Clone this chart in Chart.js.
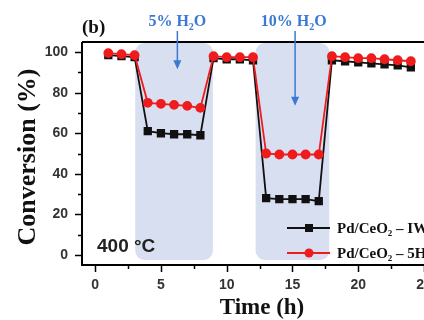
<!DOCTYPE html>
<html>
<head>
<meta charset="utf-8">
<script src="https://cdn.jsdelivr.net/npm/chart.js@4.4.1/dist/chart.umd.min.js"></script>
<style>
  html, body { margin: 0; padding: 0; background: #fff; overflow: hidden; }
  canvas { display: block; }
</style>
</head>
<body>
<canvas id="myChart" width="424" height="320"></canvas>
<script>
var ctx = document.getElementById('myChart');

// time on stream (h) and CO conversion (%)
const hours = [1, 2, 3, 4, 5, 6, 7, 8, 9, 10, 11, 12, 13, 14, 15, 16, 17, 18, 19, 20, 21, 22, 23, 24];
const iwConversion = [98.5, 98, 97.5, 61, 60, 59.5, 59.5, 59, 97, 96.5, 96.5, 96, 28, 27.5, 27.5, 27.5, 26.5, 96, 95.5, 95, 94.5, 94, 93.5, 92.5];
const h5Conversion = [99.5, 99, 98.5, 75, 74.5, 74, 73.5, 72.5, 98, 97.5, 97.5, 97.5, 50, 49.5, 49.5, 49.5, 49.5, 98, 97.5, 97, 97, 96.5, 96, 95.5];

const xTicks = [0, 5, 10, 15, 20, 25];
const yTicks = [0, 20, 40, 60, 80, 100];

// water fed between these times
const waterPeriods = [
  { label: '5% H', from: 3.05, to: 8.95 },
  { label: '10% H', from: 12.2, to: 17.8 }
];
const seriesNames = ['Pd/CeO', 'Pd/CeO'];
const seriesTails = [' \u2013 IW', ' \u2013 5H'];

const SERIF = "'Liberation Serif', 'Times New Roman', serif";
const SANS = "'Liberation Sans', Arial, sans-serif";
const BLUE = '#3b79d6';

// text with a subscript "2" in the middle: pre + 2 + post
function subText(c, pre, post, x, y, size, align) {
  c.font = 'bold ' + size + 'px ' + SERIF;
  const w1 = c.measureText(pre).width;
  c.font = 'bold ' + Math.round(size * 0.62) + 'px ' + SERIF;
  const w2 = c.measureText('2').width;
  c.font = 'bold ' + size + 'px ' + SERIF;
  const w3 = c.measureText(post).width;
  let sx = x;
  if (align === 'center') sx = x - (w1 + w2 + w3) / 2;
  c.textAlign = 'left';
  c.textBaseline = 'alphabetic';
  c.fillText(pre, sx, y);
  c.font = 'bold ' + Math.round(size * 0.62) + 'px ' + SERIF;
  c.fillText('2', sx + w1, y + size * 0.22);
  c.font = 'bold ' + size + 'px ' + SERIF;
  c.fillText(post, sx + w1 + w2, y);
}

function arrowDown(c, x, y0, y1) {
  c.beginPath();
  c.moveTo(x, y0);
  c.lineTo(x, y1 - 6);
  c.stroke();
  c.beginPath();
  c.moveTo(x, y1);
  c.lineTo(x - 4, y1 - 9);
  c.lineTo(x + 4, y1 - 9);
  c.closePath();
  c.fill();
}

const extras = {
  id: 'extras',
  beforeDatasetsDraw(chart) {
    const c = chart.ctx, a = chart.chartArea, x = chart.scales.x, y = chart.scales.y;
    c.save();
    c.fillStyle = '#d8dff1';
    waterPeriods.forEach(p => {
      const l = x.getPixelForValue(p.from), r = x.getPixelForValue(p.to);
      const b = y.getPixelForValue(-2.5);
      c.beginPath();
      c.roundRect(l, a.top + 1, r - l, b - a.top - 1, 9);
      c.fill();
    });
    c.restore();
  },
  afterDraw(chart) {
    const c = chart.ctx, a = chart.chartArea, x = chart.scales.x, y = chart.scales.y;
    c.save();

    // frame: left, bottom and top lines
    c.strokeStyle = '#000';
    c.lineWidth = 2;
    c.beginPath();
    c.moveTo(a.left, a.top);
    c.lineTo(a.right + 2, a.top);
    c.moveTo(a.left, a.top);
    c.lineTo(a.left, a.bottom);
    c.lineTo(a.right + 2, a.bottom);
    c.stroke();

    // tick marks, major and minor, pointing out
    c.lineWidth = 1.5;
    c.beginPath();
    for (let v = 0; v <= 100; v += 10) {
      const py = Math.round(y.getPixelForValue(v)) + 0.5;
      c.moveTo(a.left, py);
      c.lineTo(a.left - (v % 20 === 0 ? 7 : 4), py);
    }
    for (let v = 0; v <= 25; v += 2.5) {
      const px = Math.round(x.getPixelForValue(v)) + 0.5;
      c.moveTo(px, a.bottom);
      c.lineTo(px, a.bottom + (v % 5 === 0 ? 7 : 4));
    }
    c.stroke();

    // axis titles
    c.fillStyle = '#111';
    c.font = 'bold 23px ' + SERIF;
    c.textAlign = 'center';
    c.textBaseline = 'middle';
    c.fillText('Time (h)', 262, 308);
    c.save();
    c.translate(28, 157);
    c.rotate(-Math.PI / 2);
    c.font = 'bold 26px ' + SERIF;
    c.fillText('Conversion (%)', 0, 0);
    c.restore();

    // panel letter and temperature
    c.font = 'bold 19px ' + SERIF;
    c.textAlign = 'left';
    c.fillText('(b)', 82, 28);
    c.font = 'bold 19px ' + SANS;
    c.fillStyle = '#222';
    c.fillText('400 \u00b0C', 97, 247);

    // water feed labels and arrows
    c.fillStyle = BLUE;
    c.strokeStyle = BLUE;
    c.lineWidth = 1.5;
    subText(c, '5% H', 'O', x.getPixelForValue(6.25), 26, 16, 'center');
    arrowDown(c, x.getPixelForValue(6.25), 31, y.getPixelForValue(91.5));
    subText(c, '10% H', 'O', x.getPixelForValue(15.1), 26, 16, 'center');
    arrowDown(c, x.getPixelForValue(15.2), 31, y.getPixelForValue(73.5));

    // legend
    const rows = [
      { color: '#111', style: 'rect', py: a.bottom - 37 },
      { color: '#ee1c1c', style: 'circle', py: a.bottom - 12 }
    ];
    rows.forEach((r, i) => {
      c.strokeStyle = r.color;
      c.fillStyle = r.color;
      c.lineWidth = 2;
      c.beginPath();
      c.moveTo(287, r.py);
      c.lineTo(330, r.py);
      c.stroke();
      if (r.style === 'rect') {
        c.fillRect(305, r.py - 4, 8, 8);
      } else {
        c.beginPath();
        c.arc(309, r.py, 4.5, 0, Math.PI * 2);
        c.fill();
      }
      c.fillStyle = '#111';
      subText(c, seriesNames[i], seriesTails[i], 337, r.py + 5, 15, 'left');
    });

    c.restore();
  }
};

var myChart = new Chart(ctx, {
  type: 'line',
  data: {
    labels: hours,
    datasets: [
      {
        label: 'Pd/CeO2 - IW',
        data: iwConversion,
        borderColor: '#111',
        backgroundColor: '#111',
        borderWidth: 1.8,
        pointStyle: 'rect',
        radius: 4.6,
        fill: false,
        tension: 0,
        order: 2
      },
      {
        label: 'Pd/CeO2 - 5H',
        data: h5Conversion,
        borderColor: '#ee1c1c',
        backgroundColor: '#ee1c1c',
        borderWidth: 1.8,
        pointStyle: 'circle',
        radius: 4,
        fill: false,
        tension: 0,
        order: 1
      }
    ]
  },
  options: {
    responsive: false,
    animation: false,
    devicePixelRatio: 1,
    layout: {
      autoPadding: false,
      padding: { top: 42, left: 0, right: 0, bottom: 0 }
    },
    plugins: {
      legend: { display: false },
      tooltip: { enabled: false }
    },
    scales: {
      x: {
        type: 'linear',
        min: -1,
        max: 25,
        grid: { display: false, drawTicks: false },
        border: { display: false },
        afterBuildTicks: s => { s.ticks = xTicks.map(v => ({ value: v })); },
        afterFit: s => { s.height = 55; s.paddingLeft = 0; s.paddingRight = 0; },
        ticks: {
          padding: 12,
          maxRotation: 0,
          color: '#333',
          font: { family: SANS, size: 14, weight: 'bold' }
        }
      },
      y: {
        min: -5,
        max: 105,
        grid: { display: false, drawTicks: false },
        border: { display: false },
        afterBuildTicks: s => { s.ticks = yTicks.map(v => ({ value: v })); },
        afterFit: s => { s.width = 82; s.paddingTop = 0; s.paddingBottom = 0; },
        ticks: {
          padding: 14,
          color: '#333',
          font: { family: SANS, size: 14, weight: 'bold' }
        }
      }
    }
  },
  plugins: [extras]
});
</script>
</body>
</html>
